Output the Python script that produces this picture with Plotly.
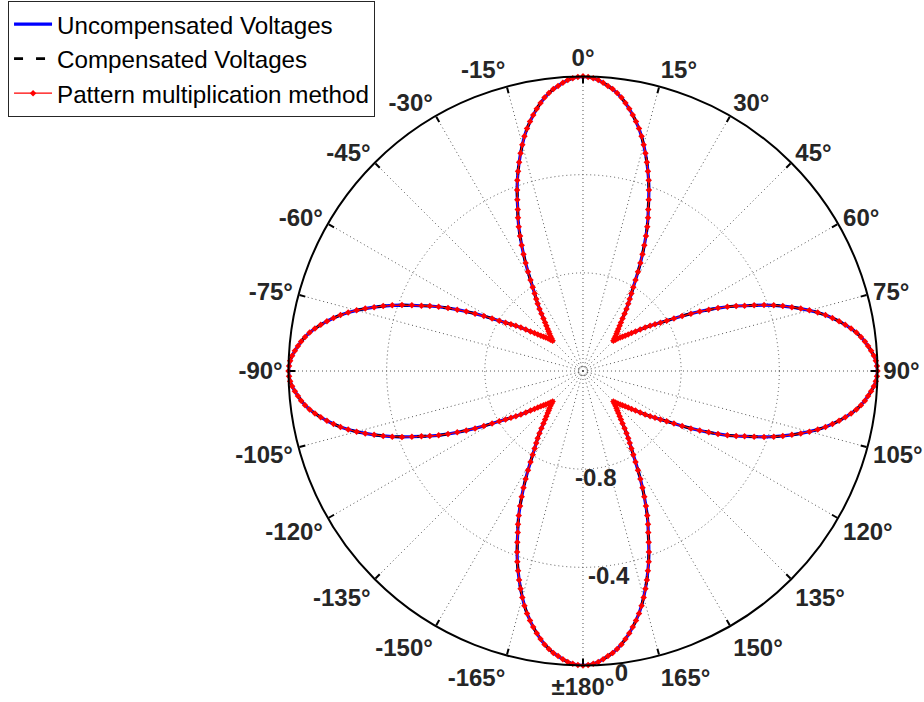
import plotly.graph_objects as go

# Half-lobe profile (degrees 0..45), radial value on the [-1.2, 0] scale.
# The pattern is symmetric about 0°, 45° and 90°, so this profile is
# mirrored to fill the full circle.
half_lobe_deg = list(range(0, 46))
half_lobe_r = [
    0.000, -0.002, -0.006, -0.013, -0.023, -0.034, -0.045, -0.059, -0.075, -0.094,
    -0.115, -0.137, -0.161, -0.186, -0.214, -0.245, -0.277, -0.310, -0.344, -0.378,
    -0.415, -0.453, -0.490, -0.522, -0.556, -0.593, -0.630, -0.666, -0.702, -0.738,
    -0.772, -0.802, -0.828, -0.850, -0.870, -0.891, -0.912, -0.932, -0.949, -0.963,
    -0.976, -0.987, -0.996, -1.006, -1.016, -1.025,
]

theta_deg = list(range(0, 361))


def full_pattern(profile):
    out = []
    for d in theta_deg:
        t = d % 90
        out.append(profile[t if t <= 45 else 90 - t])
    return out


uncompensated_r = full_pattern(half_lobe_r)
compensated_r = full_pattern(half_lobe_r)
pattern_mult_r = full_pattern(half_lobe_r)

angle_ticks = list(range(0, 360, 15))
angle_labels = []
for a in angle_ticks:
    if a == 0:
        lab = "0"
    elif a < 180:
        lab = str(a)
    elif a == 180:
        lab = "±180"
    else:
        lab = "-" + str(360 - a)
    angle_labels.append(lab + "°")

radial_ticks = [-1.18, -0.8, -0.4, 0]
radial_label_vals = [-0.8, -0.4, 0]
radial_label_text = ["-0.8", "-0.4", "0"]
radial_label_angle = 172.5

FONT = "Liberation Sans, Arial, sans-serif"
GRID = "#555555"

fig = go.Figure()
fig.add_trace(go.Scatterpolar(
    r=uncompensated_r, theta=theta_deg, mode="lines",
    name="Uncompensated Voltages",
    line=dict(color="#0000ff", width=3.2),
))
fig.add_trace(go.Scatterpolar(
    r=compensated_r, theta=theta_deg, mode="lines",
    name="Compensated Voltages",
    line=dict(color="#000000", width=2.6, dash="9px,13px"),
))
fig.add_trace(go.Scatterpolar(
    r=pattern_mult_r, theta=theta_deg, mode="lines+markers",
    name="Pattern multiplication method",
    line=dict(color="#ff0000", width=1.3),
    marker=dict(symbol="diamond", size=5, color="#ff0000"),
))
# radial tick labels, drawn just outside each grid circle along the label spoke
fig.add_trace(go.Scatterpolar(
    r=radial_label_vals, theta=[radial_label_angle] * len(radial_label_vals),
    mode="text", text=radial_label_text, textposition="bottom center",
    textfont=dict(family=FONT, size=24, color="#262626", weight="bold"),
    showlegend=False, hoverinfo="skip",
))

fig.update_layout(
    width=924, height=702,
    margin=dict(l=0, r=0, t=0, b=0),
    paper_bgcolor="white",
    font=dict(family=FONT, color="#262626"),
    showlegend=True,
    legend=dict(
        x=0.0087, y=0.9986, xanchor="left", yanchor="top",
        bgcolor="white", bordercolor="#262626", borderwidth=1,
        font=dict(family=FONT, size=24.2, color="#000000"),
        tracegroupgap=0, itemwidth=38,
    ),
    polar=dict(
        domain=dict(x=[0.3122, 0.9497], y=[0.052, 0.891]),
        bgcolor="white",
        angularaxis=dict(
            rotation=90, direction="clockwise",
            tickmode="array", tickvals=angle_ticks, ticktext=angle_labels,
            tickfont=dict(family=FONT, size=24, color="#262626", weight="bold"),
            showline=True, linecolor="#000000", linewidth=2,
            ticks="inside", ticklen=6, tickwidth=1.5, tickcolor="#000000",
            showgrid=True, gridcolor=GRID, gridwidth=1, griddash="1px,3px",
        ),
        radialaxis=dict(
            range=[-1.2, 0], angle=-82.5,
            tickmode="array", tickvals=radial_ticks,
            showticklabels=False, showline=False, ticks="",
            showgrid=True, gridcolor=GRID, gridwidth=1, griddash="1px,3px",
        ),
    ),
)

fig.write_html("out.html")
